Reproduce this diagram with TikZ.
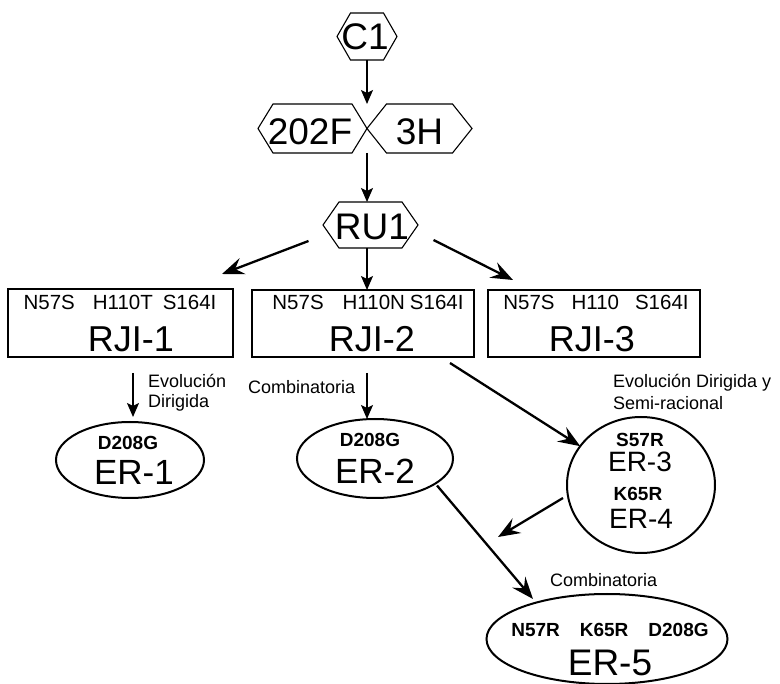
\documentclass[tikz,border=0pt]{standalone}
\usepackage{fontspec}
\setmainfont{Liberation Sans}
\usetikzlibrary{arrows.meta,shapes.geometric,calc}
\newcommand{\hexoutline}[2]{\draw[hexline] (#1.west) -- ([shift={(#2,0)}]#1.north west) -- ([shift={(-#2,0)}]#1.north east) -- (#1.east) -- ([shift={(-#2,0)}]#1.south east) -- ([shift={(#2,0)}]#1.south west) -- cycle;}
\tikzset{
  hexline/.style={line width=1.1pt, line join=miter},
  hexnode/.style={inner sep=0, outer sep=0, draw=none},
  hextxt/.style={inner sep=0, anchor=base, font=\fontsize{37}{40}\selectfont},
  boxnode/.style={draw, line width=1.2pt, inner sep=0, outer sep=0},
  mutbox/.style={inner sep=0, anchor=base, font=\fontsize{20.5}{24}\selectfont},
  bigname/.style={inner sep=0, anchor=base, font=\fontsize{36}{40}\selectfont},
  ernode/.style={ellipse, draw, line width=2pt, inner sep=0, outer sep=0},
  mutbold/.style={inner sep=0, anchor=base, font=\bfseries\fontsize{19}{22}\selectfont},
  lbl/.style={inner sep=0, anchor=base west, font=\fontsize{18}{22}\selectfont},
  bigarrow/.style={line width=2.3pt, -{Stealth[length=22pt,width=17pt,inset=8pt]}},
  smallarrow/.style={line width=1.6pt, -{Stealth[length=14pt,width=12pt,inset=3pt]}}
}
\begin{document}
\begin{tikzpicture}[x=1pt,y=-1pt]
\useasboundingbox (0,0) rectangle (780,684);
% hexagons
\node[hexnode, minimum width=60pt, minimum height=47pt] (c1) at (367,36.5) {};
\node[hexnode, minimum width=109pt, minimum height=49pt] (h202) at (312.5,128.5) {};
\node[hexnode, minimum width=105pt, minimum height=49pt] (h3h) at (419.5,128.5) {};
\node[hexnode, minimum width=95pt, minimum height=46pt] (ru1) at (370.5,225) {};
\hexoutline{c1}{13.5}
\hexoutline{h202}{15}
\hexoutline{h3h}{19.5}
\hexoutline{ru1}{16}
\coordinate (j) at (367,128.5);
\node[hextxt] (c1t) at (365,50) {C1};
\node[hextxt] (h202t) at (310,145) {202F};
\node[hextxt] (h3ht) at (419.5,145) {3H};
\node[hextxt] (ru1t) at (372,240) {RU1};
% boxes
\node[boxnode, minimum width=225pt, minimum height=68pt] (rji1) at (120.5,323) {};
\node[boxnode, minimum width=222pt, minimum height=67pt] (rji2) at (363,323.5) {};
\node[boxnode, minimum width=212pt, minimum height=67pt] (rji3) at (594,323.5) {};
\node[mutbox] (m1) at (120,310) {N57S\hspace{18pt}H110T\hspace{10pt}S164I};
\node[mutbox] (m2) at (368,310) {N57S\hspace{19pt}H110N\hspace{5pt}S164I};
\node[mutbox] (m3) at (596,310) {N57S\hspace{17pt}H110\hspace{16pt}S164I};
\node[bigname] (n1) at (131,352) {RJI-1};
\node[bigname] (n2) at (372,352) {RJI-2};
\node[bigname] (n3) at (592,352) {RJI-3};
% ellipses
\node[ernode, minimum width=148pt, minimum height=76pt] (er1) at (130,460) {};
\node[ernode, minimum width=156pt, minimum height=79pt] (er2) at (375,458.5) {};
\node[ernode, minimum width=148pt, minimum height=136pt] (er34) at (641,485) {};
\node[ernode, minimum width=241pt, minimum height=90pt] (er5) at (607,639) {};
\node[mutbold] (d1) at (128,450) {D208G};
\node[bigname, font=\fontsize{35}{40}\selectfont] (e1) at (134,485) {ER-1};
\node[mutbold] (d2) at (370,447) {D208G};
\node[bigname, font=\fontsize{35}{40}\selectfont] (e2) at (375,484) {ER-2};
\node[mutbold] (s3) at (640,447) {S57R};
\node[bigname, font=\fontsize{28}{30}\selectfont] (e3) at (640,472) {ER-3};
\node[mutbold] (k4) at (638,501) {K65R};
\node[bigname, font=\fontsize{28}{30}\selectfont] (e4) at (641,529) {ER-4};
\node[mutbold] (m5) at (610,637) {N57R\hspace{20pt}K65R\hspace{20pt}D208G};
\node[bigname, font=\fontsize{37}{42}\selectfont] (e5) at (610,675) {ER-5};
% labels
\node[lbl] (l1a) at (148,388) {Evolución};
\node[lbl] (l1b) at (148,408) {Dirigida};
\node[lbl] (l2) at (248,394) {Combinatoria};
\node[lbl] (l3a) at (613,388) {Evolución Dirigida y};
\node[lbl] (l3b) at (613,410) {Semi-racional};
\node[lbl] (l5) at (550,587) {Combinatoria};
\coordinate (mrg) at (498,537);
% connectors
\draw[smallarrow] (c1.south) -- (c1.south |- h202.north);
\draw[smallarrow] (j |- h202.south) -- (j |- ru1.north);
\draw[smallarrow] (j |- ru1.south) -- (j |- rji2.north);
\draw[bigarrow] ([shift={(-14.5,16)}]ru1.west) -- ([shift={(101.5,-15)}]rji1.north);
\draw[bigarrow] ([shift={(15.5,15)}]ru1.east) -- ([shift={(-81,-10)}]rji3.north);
\draw[smallarrow] ([shift={(12.5,16)}]rji1.south) -- ([shift={(3,-5)}]er1.north);
\draw[smallarrow] ([shift={(4,16)}]rji2.south) -- ([shift={(-8,0)}]er2.north);
\draw[bigarrow] ([shift={(-24,6)}]rji2.south east) -- (er34);
\draw[bigarrow] ([shift={(-78,13)}]er34.center) -- (mrg);
\draw[bigarrow] ([shift={(62,27)}]er2.center) -- ([shift={(-74,-40)}]er5.center);
\end{tikzpicture}
\end{document}
